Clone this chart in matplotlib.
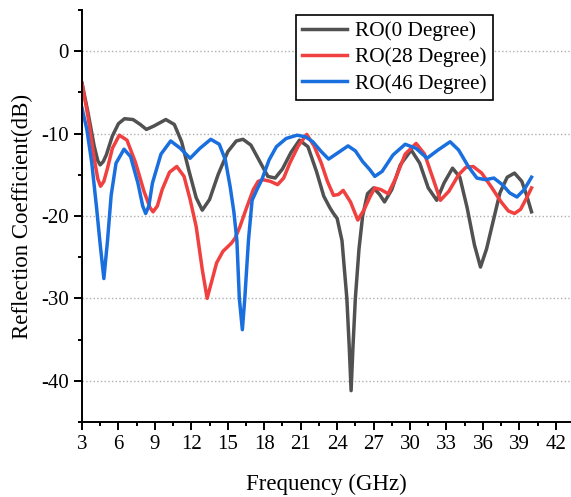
import matplotlib
matplotlib.use("Agg")
import matplotlib.pyplot as plt
from matplotlib.ticker import MultipleLocator

plt.rcParams['font.family'] = ['Liberation Serif', 'DejaVu Serif']
plt.rcParams['axes.unicode_minus'] = False

# values (frequency in GHz, reflection coefficient in dB)
freq_0 = [3.0, 3.5, 4.0, 4.3, 4.5, 4.75, 5.0, 5.5, 6.0, 6.5, 7.2, 7.8, 8.3, 8.9, 9.9, 10.6,
          11.2, 11.8, 12.4, 12.9, 13.5, 14.2, 15.0, 15.7, 16.25, 16.9, 17.6,
          18.3, 18.9, 19.5, 20.2, 20.9, 21.6, 22.3, 22.9, 23.4, 23.7, 24.0, 24.4,
          24.8, 25.0, 25.15, 25.3, 25.5, 25.8, 26.1, 26.5, 27.0, 27.5, 27.9,
          28.5, 29.2, 30.1, 30.8, 31.5, 32.2, 32.8, 33.5, 34.1, 34.7, 35.3, 35.8,
          36.3, 36.8, 37.4, 38.0, 38.6, 39.2, 39.6, 40.0]
s11_0 = [-3.9, -7.5, -11.5, -13.3, -13.8, -13.4, -12.6, -10.3, -8.8, -8.2, -8.3, -8.9, -9.5,
         -9.1, -8.3, -8.9, -11.0, -14.5, -17.8, -19.3, -18.0, -15.0, -12.2,
         -10.9, -10.7, -11.4, -13.3, -15.2, -15.4, -14.3, -12.3, -10.8, -11.6,
         -14.6, -17.6, -19.0, -19.7, -20.3, -23.0, -30.0, -36.0, -41.2, -36.0,
         -30.0, -24.0, -20.0, -17.3, -16.6, -17.4, -18.3, -16.8, -13.8, -12.0,
         -13.6, -16.6, -18.1, -16.0, -14.2, -15.3, -19.0, -23.5, -26.2, -24.0,
         -20.9, -17.2, -15.3, -14.8, -15.8, -17.5, -19.5]

freq_28 = [3.0, 3.5, 4.0, 4.3, 4.53, 4.8, 5.1, 5.5, 6.07, 6.7, 7.4, 8.1, 8.6, 8.85, 9.2, 9.6, 10.2,
           10.8, 11.4, 11.9, 12.4, 12.9, 13.3, 13.7, 14.08, 14.6, 15.3, 15.6,
           16.0, 16.5, 17.1, 17.5, 17.9, 18.5, 19.1, 19.6, 20.1, 20.8, 21.5,
           22.1, 22.7, 23.2, 23.7, 24.1, 24.5, 25.1, 25.7, 26.2, 26.7, 27.1,
           27.6, 28.2, 28.8, 29.6, 30.5, 31.2, 31.9, 32.5, 33.2, 34.0, 34.6,
           35.2, 35.9, 36.7, 37.5, 38.1, 38.6, 39.1, 39.6, 40.0]
s11_28 = [-3.9, -8.0, -13.0, -15.5, -16.4, -15.8, -14.2, -11.8, -10.2, -10.8, -13.5, -17.0,
          -19.0, -19.5, -18.8, -16.8, -14.7, -14.0, -15.2, -18.0, -21.3, -26.5, -30.0, -27.8,
          -25.7, -24.3, -23.3, -22.7, -21.3, -19.2, -16.8, -15.8, -15.6, -15.8,
          -16.2, -15.4, -13.6, -11.5, -10.1, -11.5, -13.6, -15.8, -17.5, -17.4,
          -16.9, -18.3, -20.5, -19.3, -17.7, -16.6, -16.8, -17.3, -15.5, -12.5,
          -11.2, -12.5, -15.5, -18.1, -17.0, -15.0, -14.1, -14.0, -14.8, -16.5,
          -18.3, -19.4, -19.7, -19.2, -17.8, -16.6]

freq_46 = [3.0, 3.4, 3.8, 4.2, 4.5, 4.8, 5.1, 5.4, 5.8, 6.46, 7.0, 7.6, 8.0, 8.24,
           8.5, 8.8, 9.5, 10.3, 11.1, 11.9, 12.7, 13.6, 14.3, 14.8, 15.2, 15.5,
           15.75, 15.95, 16.2, 16.4, 16.7, 17.0, 17.4, 17.8, 18.4, 19.0, 19.8,
           20.7, 21.4, 22.0, 22.7, 23.3, 24.1, 24.9, 25.5, 26.1, 26.7, 27.1,
           27.7, 28.6, 29.6, 30.5, 31.4, 32.3, 33.3, 34.0, 34.8, 35.5, 36.2,
           36.9, 37.6, 38.2, 38.8, 39.4, 40.0]
s11_46 = [-6.9, -9.5, -13.5, -19.0, -23.5, -27.6, -23.0, -17.5, -13.6, -11.9,
          -12.8, -16.0, -18.8, -19.7, -18.8, -16.0, -12.5, -10.9, -11.8, -13.0, -11.8, -10.7,
          -11.3, -13.2, -16.5, -19.5, -23.0, -30.0, -33.8, -30.0, -23.0, -18.1,
          -16.8, -15.6, -13.2, -11.6, -10.6, -10.2, -10.4, -11.0, -12.2, -13.1,
          -12.3, -11.5, -12.1, -13.4, -14.4, -15.2, -14.6, -12.6, -11.3, -11.8,
          -13.0, -12.0, -11.0, -12.0, -14.0, -15.4, -15.6, -15.4, -16.2, -17.2,
          -17.7, -16.8, -15.3]

labels = ['RO(0 Degree)', 'RO(28 Degree)', 'RO(46 Degree)']
colors = ['#515151', '#F14040', '#1A6FDF']

fig = plt.figure(figsize=(5.71, 4.97), dpi=100)
ax = fig.add_axes([0.1436, 0.151, 0.8564, 0.829])

for x, y, lab, c in zip([freq_0, freq_28, freq_46], [s11_0, s11_28, s11_46], labels, colors):
    ax.plot(x, y, color=c, lw=2.5, label=lab, solid_joinstyle='round')

ax.set_xlim(3, 43.25)
ax.set_ylim(-45, 5)
ax.xaxis.set_major_locator(MultipleLocator(3))
ax.xaxis.set_minor_locator(MultipleLocator(1.5))
ax.yaxis.set_major_locator(MultipleLocator(10))
ax.yaxis.set_minor_locator(MultipleLocator(5))
ax.tick_params(which='major', direction='out', length=6, width=1.4, labelsize=15)
ax.tick_params(which='minor', direction='out', length=3.2, width=1.4)
ax.spines['top'].set_visible(False)
ax.spines['right'].set_visible(False)
ax.spines['left'].set_linewidth(1.4)
ax.spines['bottom'].set_linewidth(1.4)
ax.grid(axis='y', which='major', linestyle=':', color='#b0b0b0', lw=1)

ax.set_xlabel('Frequency (GHz)', fontsize=16.5, labelpad=14)
ax.set_ylabel('Reflection Coefficient(dB)', fontsize=16.5, labelpad=6)

leg = ax.legend(loc='upper left', bbox_to_anchor=(0.4376, 0.988), fontsize=15.3,
                frameon=True, fancybox=False, edgecolor='black', framealpha=1,
                handlelength=2.1, borderpad=0.3, labelspacing=0.3, handletextpad=0.4,
                borderaxespad=0)
leg.get_frame().set_linewidth(1.2)

fig.savefig('out.png', dpi=100)
